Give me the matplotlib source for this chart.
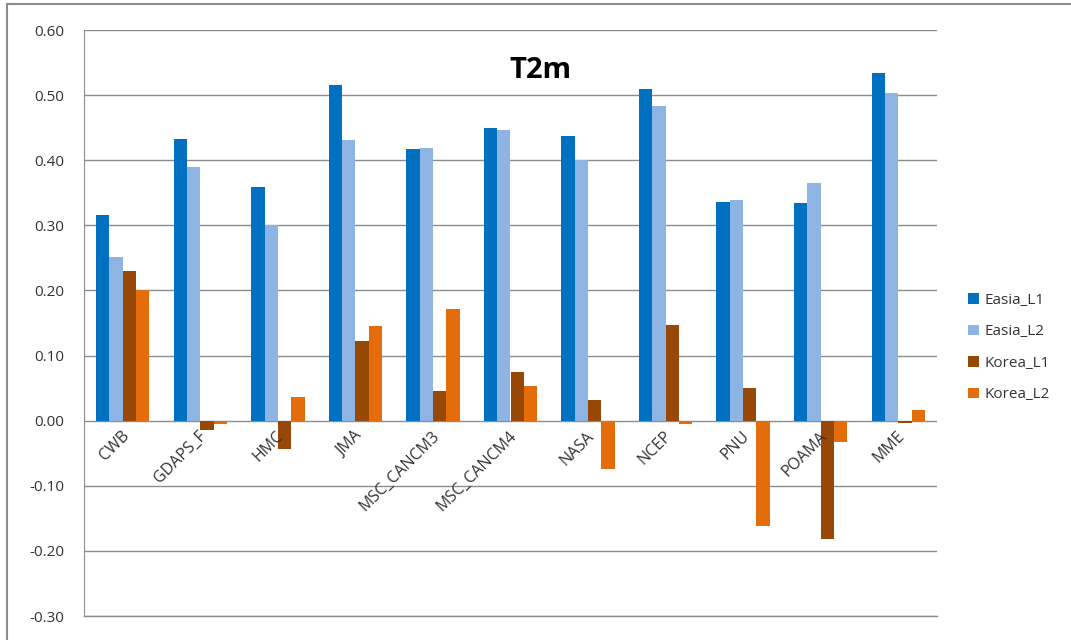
import numpy as np
import matplotlib
matplotlib.use('Agg')
import matplotlib.pyplot as plt
from matplotlib.patches import Rectangle

# valeurs
models = ['CWB', 'GDAPS_F', 'HMC', 'JMA', 'MSC_CANCM3', 'MSC_CANCM4',
          'NASA', 'NCEP', 'PNU', 'POAMA', 'MME']
easia_l1 = [0.316, 0.433, 0.359, 0.515, 0.417, 0.449, 0.437, 0.510, 0.336, 0.334, 0.534]
easia_l2 = [0.252, 0.390, 0.300, 0.431, 0.419, 0.447, 0.401, 0.483, 0.339, 0.365, 0.503]
korea_l1 = [0.230, -0.014, -0.044, 0.122, 0.045, 0.075, 0.031, 0.147, 0.050, -0.182, -0.003]
korea_l2 = [0.201, -0.005, 0.036, 0.145, 0.172, 0.054, -0.074, -0.005, -0.162, -0.033, 0.016]
series = {'Easia_L1': easia_l1, 'Easia_L2': easia_l2,
          'Korea_L1': korea_l1, 'Korea_L2': korea_l2}
colors = ['#0070C0', '#8DB4E2', '#974706', '#E46C0A']
yticks = [-0.30, -0.20, -0.10, 0.00, 0.10, 0.20, 0.30, 0.40, 0.50, 0.60]

plt.rcParams['font.family'] = ['Open Sans', 'DejaVu Sans']

fig = plt.figure(figsize=(10.71, 6.4), dpi=100)
fig.patches.append(Rectangle((7 / 1071, -0.1), 1.2, 1.1 - 4 / 640, transform=fig.transFigure,
                             fill=False, edgecolor='#8c8c8c', linewidth=1.5))
ax = fig.add_axes([84 / 1071, 1 - 616 / 640, (937 - 84) / 1071, (616 - 30) / 640])

x = np.arange(len(models))
w = 0.172
for i, (name, vals) in enumerate(series.items()):
    ax.bar(x + (i - 1.5) * w, vals, width=w, color=colors[i], label=name, zorder=3)

ax.set_xlim(-0.5, len(models) - 0.5)
ax.set_ylim(-0.30, 0.60)
ax.set_yticks(yticks)
ax.set_yticklabels([f'{v:.2f}' for v in yticks], fontsize=11, color='#333333')
ax.tick_params(axis='y', length=0, pad=14)
ax.set_xticks([])
ax.grid(axis='y', color='#8c8c8c', linewidth=1, zorder=0)
ax.axhline(-0.30, color='#8c8c8c', linewidth=1, clip_on=False, zorder=0)
for s in ['top', 'right', 'bottom']:
    ax.spines[s].set_visible(False)
ax.spines['left'].set_color('#8c8c8c')

for i, m in enumerate(models):
    ax.text(i + 0.05, -0.02, m, rotation=45, ha='right', va='center',
            rotation_mode='anchor', fontsize=11.5, color='#333333', zorder=4)

fig.text(540 / 1071, 1 - 70 / 640, 'T2m', fontsize=21, fontweight='bold',
         ha='center', va='center')

ax.legend(loc='center left', bbox_to_anchor=(1.02, 0.458), frameon=False,
          fontsize=11, handlelength=0.7, handleheight=0.7, labelspacing=1.08,
          handletextpad=0.4, labelcolor='#333333')

fig.savefig('out.png', dpi=100)
